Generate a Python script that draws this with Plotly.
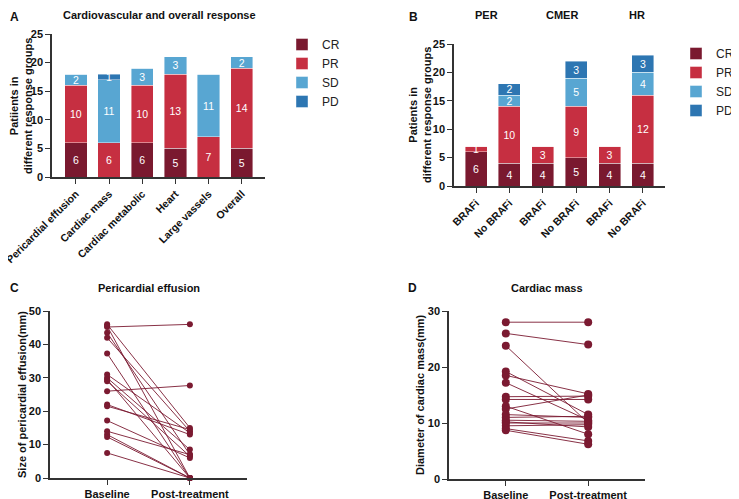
import plotly.graph_objects as go

# the page puts the figure 8px in from the top-left corner, so it is drawn that much smaller
PAD = 8
W, H = 739 - PAD, 499 - PAD

# Panel A - response by site
a_cats = ['Pericardial effusion', 'Cardiac mass', 'Cardiac metabolic', 'Heart', 'Large vassels', 'Overall']
a_cr = [6, 0, 6, 5, 0, 5]
a_pr = [10, 6, 10, 13, 7, 14]
a_sd = [2, 11, 3, 3, 11, 2]
a_pd = [0, 1, 0, 0, 0, 0]

# Panel B - response by BRAFi use
b_cats = ['BRAFi', 'No BRAFi', 'BRAFi', 'No BRAFi', 'BRAFi', 'No BRAFi']
b_groups = ['PER', 'CMER', 'HR']
b_cr = [6, 4, 4, 5, 4, 4]
b_pr = [1, 10, 3, 9, 3, 12]
b_sd = [0, 2, 0, 5, 0, 4]
b_pd = [0, 2, 0, 3, 0, 3]

# Panel C - pericardial effusion (mm), paired
c_base = [45.2, 26, 46, 45.5, 43.5, 42, 37.3, 31, 30, 29.5, 29, 22, 21.5, 17.2, 14, 13, 12.3, 7.5]
c_post = [46, 27.7, 15, 0, 7, 14, 0, 13.5, 8.5, 0, 6.5, 13, 14.5, 6, 7, 0, 0, 0]

# Panel D - cardiac mass (mm), paired
d_base = [28, 26, 23.8, 19.2, 18.5, 17.2, 14.7, 14.2, 13, 12.5, 11.5, 11, 10.5, 10.2, 10, 9.5, 9, 8.7]
d_post = [28, 24, 10, 11.5, 15.2, 10.5, 14.8, 14.2, 8, 15, 11, 11.2, 10.3, 9.3, 10, 9.7, 6.8, 6.2]

time_labels = ['Baseline', 'Post-treatment']
resp_names = ['CR', 'PR', 'SD', 'PD']
resp_colors = ['#7A192F', '#C62F41', '#58A6D2', '#2D76B2']

FONT = 'Liberation Sans, Arial, sans-serif'
DARK = '#7B1A31'


def px_x(p):
    return (p - PAD) / W


def px_y(p):
    return 1 - (p - PAD) / H


fig = go.Figure()

for name, vals, col in zip(resp_names, [a_cr, a_pr, a_sd, a_pd], resp_colors):
    fig.add_trace(go.Bar(
        x=list(range(len(a_cats))), y=vals, name=name, marker_color=col,
        marker_line=dict(color='rgba(255,255,255,0.7)', width=0.6),
        text=[str(v) if v > 0 else '' for v in vals], textposition='inside', textangle=0,
        insidetextanchor='middle', textfont=dict(color='white', size=10.5, family=FONT),
        width=0.67, xaxis='x', yaxis='y', legend='legend'))

for name, vals, col in zip(resp_names, [b_cr, b_pr, b_sd, b_pd], resp_colors):
    fig.add_trace(go.Bar(
        x=list(range(len(b_cats))), y=vals, name=name, marker_color=col,
        marker_line=dict(color='rgba(255,255,255,0.7)', width=0.6),
        text=[str(v) if v > 0 else '' for v in vals], textposition='inside', textangle=0,
        insidetextanchor='middle', textfont=dict(color='white', size=10.5, family=FONT),
        width=0.66, xaxis='x2', yaxis='y2', legend='legend2'))


def paired(base, post):
    xs, ys = [], []
    for b, p in zip(base, post):
        xs += [0, 1, None]
        ys += [b, p, None]
    return xs, ys


xs, ys = paired(c_base, c_post)
fig.add_trace(go.Scatter(x=xs, y=ys, mode='lines+markers', showlegend=False,
                         line=dict(color=DARK, width=0.9), marker=dict(color=DARK, size=6),
                         cliponaxis=False, xaxis='x3', yaxis='y3'))
xs, ys = paired(d_base, d_post)
fig.add_trace(go.Scatter(x=xs, y=ys, mode='lines+markers', showlegend=False,
                         line=dict(color=DARK, width=0.9), marker=dict(color=DARK, size=8),
                         cliponaxis=False, xaxis='x4', yaxis='y4'))

tickfont = dict(family=FONT, size=11, color='#111', weight='bold')
axis_common = dict(showline=True, linecolor='#333', linewidth=1.5, showgrid=False,
                   zeroline=False, ticks='outside', ticklen=5, tickwidth=1.3,
                   tickcolor='#333', automargin=False, ticklabeloverflow='allow')
rot_font = dict(family=FONT, size=10.5, color='#111', weight='bold')

fig.update_layout(
    width=W, height=H, margin=dict(l=0, r=0, t=0, b=0, autoexpand=False),
    plot_bgcolor='white', paper_bgcolor='white', barmode='stack',
    font=dict(family=FONT, color='#111'),
    uniformtext=dict(minsize=10.5, mode='show'),
    showlegend=True,
    xaxis=dict(domain=[px_x(52), px_x(265)], anchor='y', range=[-0.72, 5.7],
               tickvals=list(range(len(a_cats))), ticktext=a_cats, tickangle=-45,
               tickfont=rot_font, **axis_common),
    yaxis=dict(domain=[px_y(177), px_y(34)], anchor='x', range=[0, 25],
               tickvals=[0, 5, 10, 15, 20, 25], tickfont=tickfont, **axis_common),
    xaxis2=dict(domain=[px_x(454), px_x(665)], anchor='y2', range=[-0.66, 5.66],
                tickvals=list(range(len(b_cats))), ticktext=b_cats, tickangle=-45,
                tickfont=rot_font, **axis_common),
    yaxis2=dict(domain=[px_y(186), px_y(44)], anchor='x2', range=[0, 25],
                tickvals=[0, 5, 10, 15, 20, 25], tickfont=tickfont, **axis_common),
    xaxis3=dict(domain=[px_x(50), px_x(247)], anchor='y3', range=[-0.69, 1.69],
                tickvals=[0, 1], ticktext=time_labels, tickangle=0, tickfont=tickfont,
                **axis_common),
    yaxis3=dict(domain=[px_y(478), px_y(311)], anchor='x3', range=[0, 50],
                tickvals=[0, 10, 20, 30, 40, 50], tickfont=tickfont, **axis_common),
    xaxis4=dict(domain=[px_x(449), px_x(645)], anchor='y4', range=[-0.69, 1.69],
                tickvals=[0, 1], ticktext=time_labels, tickangle=0, tickfont=tickfont,
                **axis_common),
    yaxis4=dict(domain=[px_y(479), px_y(311)], anchor='x4', range=[0, 30],
                tickvals=[0, 10, 20, 30], tickfont=tickfont, **axis_common),
    legend=dict(x=px_x(282), y=px_y(30), xanchor='left', yanchor='top',
                traceorder='normal', font=dict(family=FONT, size=12, color='#222'),
                bgcolor='rgba(0,0,0,0)', itemwidth=30, tracegroupgap=0),
    legend2=dict(x=1, y=px_y(39), xanchor='right', yanchor='top',
                 traceorder='normal', font=dict(family=FONT, size=12, color='#222'),
                 bgcolor='rgba(0,0,0,0)', itemwidth=30, tracegroupgap=0),
)

ann = []


def label(text, x, y, size=11, angle=0, anchor='center', yanchor='middle'):
    ann.append(dict(text='<b>%s</b>' % text, x=px_x(x), y=px_y(y), xref='paper', yref='paper',
                    showarrow=False, textangle=angle, xanchor=anchor, yanchor=yanchor,
                    font=dict(family=FONT, size=size, color='#111')))


label('A', PAD, PAD, size=12, anchor='left', yanchor='top')
label('B', 413, PAD, size=12, yanchor='top')
label('C', PAD, 288, size=12, anchor='left')
label('D', 412, 288, size=12)
label('Cardiovascular and overall response', 159, 15)
label('Pericardial effusion', 149, 288)
label('Cardiac mass', 547, 288)
for g, cx in zip(b_groups, [487, 562, 637]):
    label(g, cx, 15)
label('Patiients in<br>different response groups', 21, 106, angle=-90)
label('Patients in<br>different response groups', 420, 115, angle=-90)
label('Size of pericardial effusion(mm)', 22, 395, angle=-90)
label('Diameter of cardiac mass(mm)', 420, 395, angle=-90)

fig.update_layout(annotations=ann)

fig.write_html("out.html")
